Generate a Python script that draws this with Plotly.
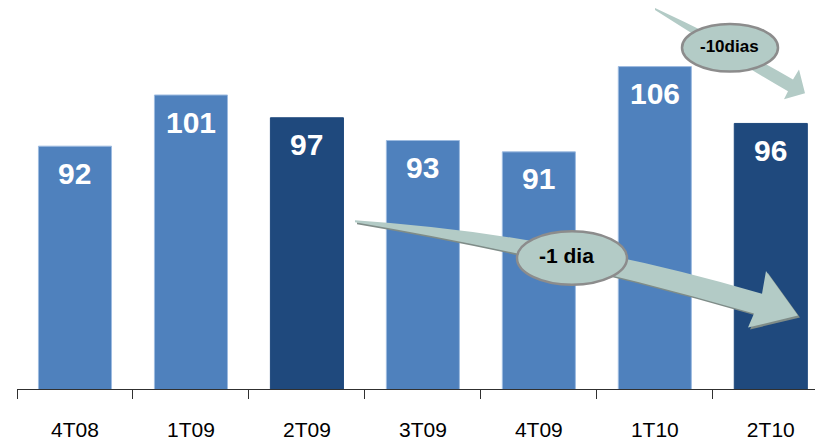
import plotly.graph_objects as go

categories = ["4T08", "1T09", "2T09", "3T09", "4T09", "1T10", "2T10"]
values = [92, 101, 97, 93, 91, 106, 96]
highlight = [False, False, True, False, False, False, True]

LIGHT = "#4F81BD"
DARK = "#1F497D"
colors = [DARK if h else LIGHT for h in highlight]
edges = [DARK if h else "#9DBBE0" for h in highlight]

OFF = 8  # default page margin of the html body
W, H = 823 - OFF, 441 - OFF
ML, MT, MB = 9, 0, 49
PW, PH = W - ML, H - MT - MB


def px(x):
    return (x - OFF - ML) / PW


def py(y):
    return 1 - (y - OFF - MT) / PH


def path(cmds):
    out = []
    for c in cmds:
        if isinstance(c, str):
            out.append(c)
        else:
            out.append(f"{px(c[0]):.5f},{py(c[1]):.5f}")
    return " ".join(out)


fig = go.Figure()
fig.add_trace(go.Bar(
    x=categories, y=values, marker=dict(color=colors, line=dict(width=1, color=edges)),
    width=0.63, hoverinfo="skip",
))

for c, v in zip(categories, values):
    fig.add_annotation(x=c, y=v, text=f"<b>{v}</b>", showarrow=False, yshift=-27,
                       font=dict(family="Liberation Sans, Arial", size=30, color="white"))

shapes = []
ARROW = "#B3CBC6"
SHADOW = "#7F8C88"

# big arrow
big = ["M", (355, 222), "Q", (560, 236), (762, 296), "L", (766, 273), "L", (798, 318),
       "L", (748, 330), "L", (754, 316), "Q", (560, 259), (355, 224), "Z"]
big_sh = ["M", (357, 224), "Q", (562, 238), (764, 298), "L", (768, 275), "L", (800, 320),
          "L", (750, 332), "L", (756, 318), "Q", (562, 261), (357, 226), "Z"]
shapes.append(dict(type="path", xref="paper", yref="paper", path=path(big_sh),
                   fillcolor=SHADOW, line=dict(width=0), layer="above"))
shapes.append(dict(type="path", xref="paper", yref="paper", path=path(big),
                   fillcolor=ARROW, line=dict(width=0), layer="above"))

# small arrow
small = ["M", (655, 8), "Q", (730, 43), (793, 80), "L", (799, 70), "L", (805, 94),
         "L", (784, 100), "L", (788, 92), "Q", (725, 55), (655, 10), "Z"]
shapes.append(dict(type="path", xref="paper", yref="paper", path=path(small),
                   fillcolor=ARROW, line=dict(width=0), layer="above"))

# ellipses
for cx, cy, rx, ry in [(572, 260, 55, 27), (730, 48, 48, 24)]:
    shapes.append(dict(type="circle", xref="paper", yref="paper",
                       x0=px(cx - rx), x1=px(cx + rx), y0=py(cy + ry), y1=py(cy - ry),
                       fillcolor=ARROW, line=dict(color="#8C8C8C", width=2.5), layer="above"))

fig.add_annotation(xref="paper", yref="paper", x=px(566), y=py(257), text="<b>-1 dia</b>",
                   xanchor="center", yanchor="middle",
                   showarrow=False, font=dict(family="Liberation Sans, Arial", size=21, color="black"))
fig.add_annotation(xref="paper", yref="paper", x=px(729), y=py(47), text="<b>-10dias</b>",
                   xanchor="center", yanchor="middle",
                   showarrow=False, font=dict(family="Liberation Sans Narrow, Liberation Sans, Arial", size=17, color="black"))

fig.update_layout(
    width=W, height=H, margin=dict(l=ML, r=0, t=MT, b=MB),
    paper_bgcolor="white", plot_bgcolor="white", showlegend=False,
    shapes=shapes,
    xaxis=dict(range=[-0.5, 6.45], showline=True, linecolor="#303030", linewidth=1,
               ticks="outside", tickson="boundaries", ticklen=9, tickcolor="#303030",
               ticklabelstandoff=22,
               showgrid=False, tickfont=dict(family="Liberation Sans, Arial", size=21, color="black"),
               fixedrange=True),
    yaxis=dict(range=[49.3, 116.3], visible=False, showgrid=False, fixedrange=True),
)

fig.write_html("out.html", config={"displayModeBar": False})
